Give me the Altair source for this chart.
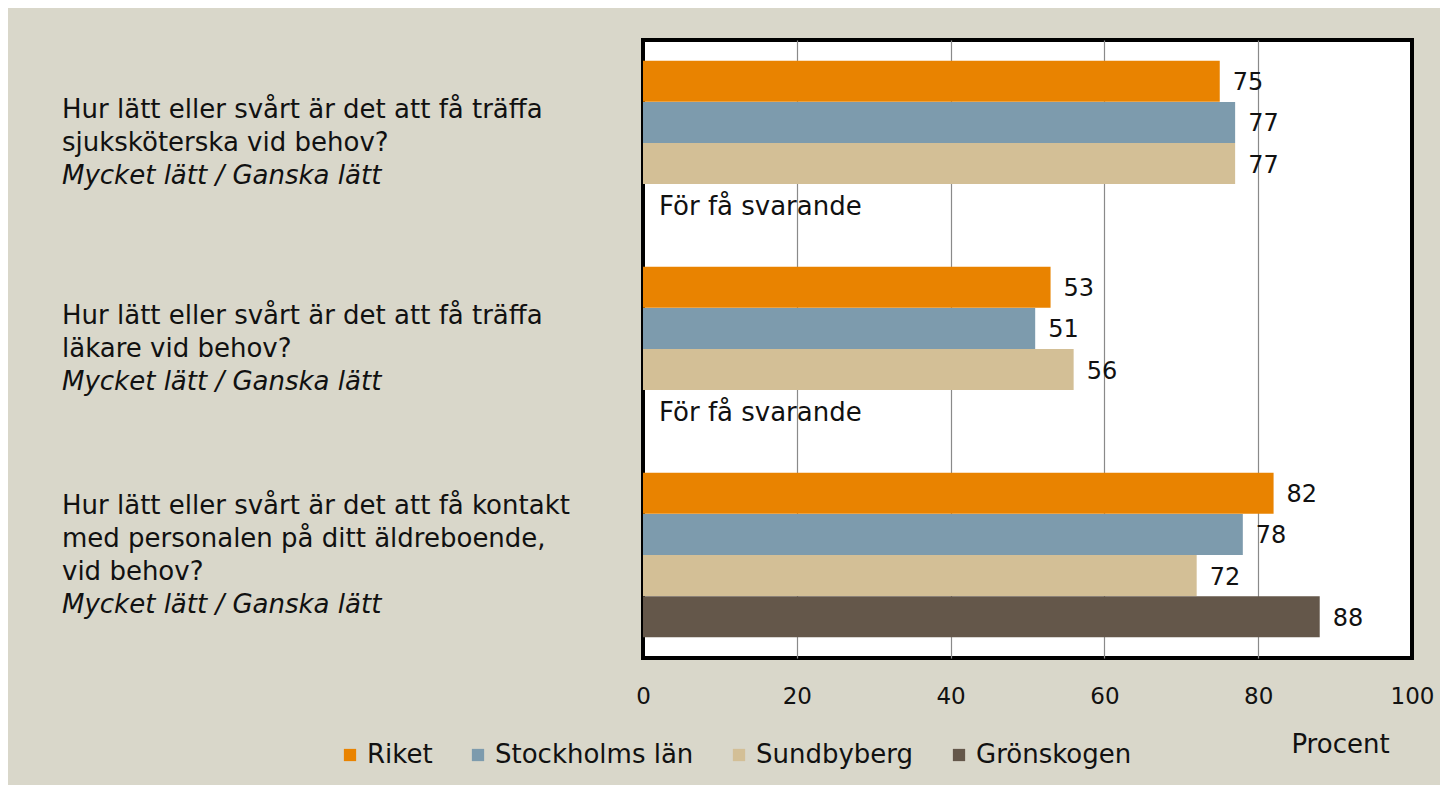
import altair as alt
import pandas as pd

questions = ["q1", "q2", "q3"]
question_lines = [
    ["Hur lätt eller svårt är det att få träffa", "sjuksköterska vid behov?"],
    ["Hur lätt eller svårt är det att få träffa", "läkare vid behov?"],
    ["Hur lätt eller svårt är det att få kontakt", "med personalen på ditt äldreboende,", "vid behov?"],
]
subtitle_text = "Mycket lätt / Ganska lätt"
series = ["Riket", "Stockholms län", "Sundbyberg", "Grönskogen"]
colors = ["#E98300", "#7D9BAD", "#D3BF96", "#64574A"]
riket = [75, 53, 82]
stockholm = [77, 51, 78]
sundbyberg = [77, 56, 72]
gronskogen = [None, None, 88]
too_few = "För få svarande"
x_ticks = [0, 20, 40, 60, 80, 100]

FONT = "DejaVu Sans"
LINE_H = 33

rows = []
for i, q in enumerate(questions):
    for s, vals in zip(series, [riket, stockholm, sundbyberg, gronskogen]):
        if vals[i] is not None:
            rows.append({"question": q, "series": s, "value": vals[i]})
bars_df = pd.DataFrame(rows)

note_rows = []
for i, q in enumerate(questions):
    if gronskogen[i] is None:
        note_rows.append({"question": q, "series": "Grönskogen", "value": 0, "note": too_few})
note_df = pd.DataFrame(note_rows)

# one row per text line of the category labels
lab_rows = []
for q, lines in zip(questions, question_lines):
    all_lines = [(t, False) for t in lines] + [(subtitle_text, True)]
    n = len(all_lines)
    for k, (t, ital) in enumerate(all_lines):
        lab_rows.append({"question": q, "line": t, "italic": ital,
                         "slot": k - (n - 1) / 2})
lab_df = pd.DataFrame(lab_rows)

y_enc = alt.Y("question:N", sort=questions, axis=None,
              scale=alt.Scale(paddingInner=0.2, paddingOuter=0.1))
yoff = alt.YOffset("series:N", sort=series,
                   scale=alt.Scale(domain=series, paddingInner=0, paddingOuter=0))

x_enc = alt.X("value:Q", scale=alt.Scale(domain=[0, 100], nice=False),
              axis=alt.Axis(values=x_ticks, title="Procent", domain=False, ticks=False,
                            tickSize=0, labelPadding=27, labelFontSize=23, labelFont=FONT,
                            labelFlush=False,
                            labelColor="#111", titleFont=FONT, titleFontSize=26,
                            titleFontWeight="normal", titleColor="#111",
                            titleAlign="center", titleBaseline="middle",
                            titleX=697, titleY=86,
                            gridColor={"condition": {"test": "datum.value == 0 || datum.value == 100",
                                                     "value": "black"}, "value": "#8a8a8a"},
                            gridWidth=1.2))

bars = alt.Chart(bars_df).mark_bar(size=41).encode(
    x=x_enc,
    y=y_enc,
    yOffset=yoff,
    color=alt.Color("series:N", sort=series,
                    scale=alt.Scale(domain=series, range=colors),
                    legend=alt.Legend(title=None, orient="none", direction="horizontal",
                                      legendX=-306, legendY=702, symbolType="square",
                                      symbolSize=150, symbolStrokeWidth=0,
                                      labelFont=FONT, labelFontSize=26, labelColor="#111",
                                      columnPadding=32, labelOffset=4, labelLimit=400)),
)

values = alt.Chart(bars_df).mark_text(align="left", baseline="middle", dx=13, dy=2,
                                      font=FONT, fontSize=24, color="#111").encode(
    x="value:Q", y=y_enc, yOffset=yoff, text="value:Q")

notes = alt.Chart(note_df).mark_text(align="left", baseline="middle", dx=16, dy=2,
                                     font=FONT, fontSize=26, color="#111").encode(
    x="value:Q", y=y_enc, yOffset=yoff, text="note:N")

label_layers = []
for (slot, ital), _ in lab_df.groupby(["slot", "italic"]):
    label_layers.append(
        alt.Chart(lab_df).transform_filter(
            (alt.datum.slot == slot) & (alt.datum.italic == bool(ital))
        ).mark_text(align="left", baseline="middle", dy=slot * LINE_H, font=FONT,
                    fontSize=26, fontStyle="italic" if ital else "normal",
                    color="#111").encode(x=alt.value(-581), y=y_enc, text="line:N")
    )

chart = alt.layer(bars, values, notes, *label_layers).properties(
    width=769, height=618,
    autosize=alt.AutoSizeParams(type="none"),
    padding={"left": 635, "top": 32, "right": 28, "bottom": 127},
    background="#D9D7CA",
).configure_view(fill="white", stroke="black", strokeWidth=4)

chart.save("out.html", embed_options={"renderer": "svg", "actions": False})
